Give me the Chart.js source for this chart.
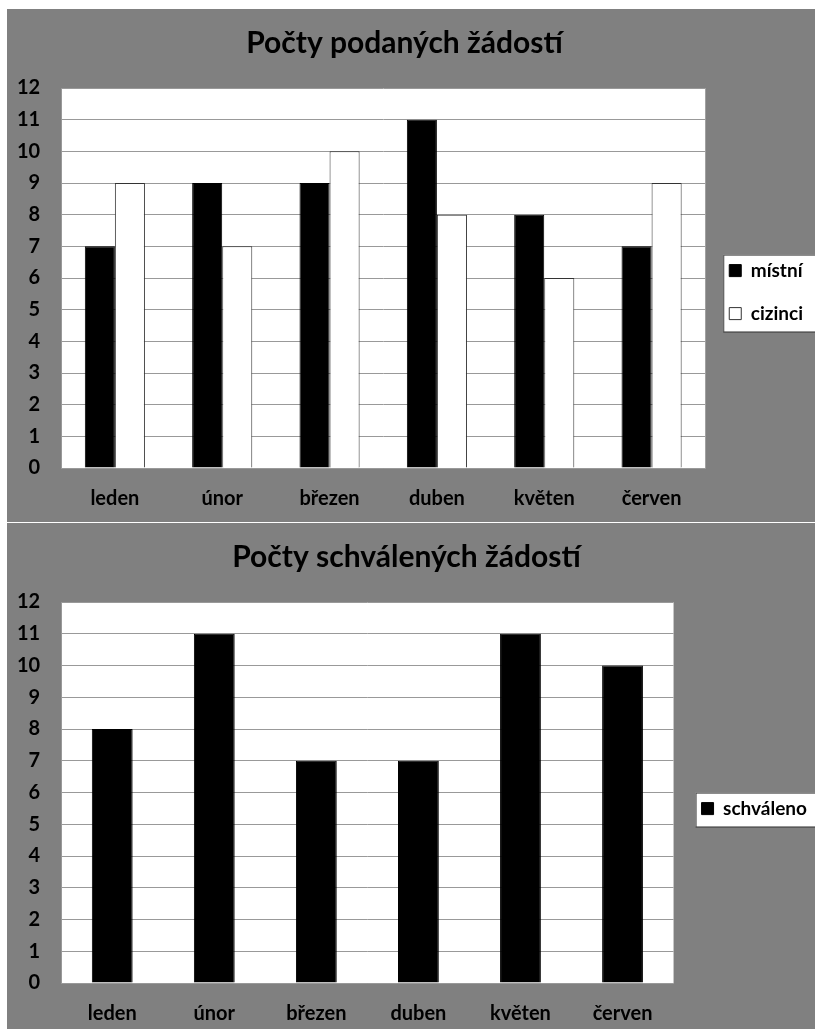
<!DOCTYPE html>
<html>
<head>
<meta charset="utf-8">
<script src="https://cdn.jsdelivr.net/npm/chart.js@4.4.0/dist/chart.umd.min.js"></script>
<style>
  body { margin: 0; background: #fff; overflow: hidden; width: 815px; height: 1029px; position: relative; }
  .box { position: absolute; left: 7px; width: 820px; background: #808080; }
  #top { top: 9px; height: 513px; }
  #bottom { top: 523px; height: 506px; }
</style>
</head>
<body>
<div class="box" id="top"><canvas id="podaneChart"></canvas></div>
<div class="box" id="bottom"><canvas id="schvaleneChart"></canvas></div>
<script>
// data
var mesice = ["leden", "únor", "březen", "duben", "květen", "červen"];
var mistni = [7, 9, 9, 11, 8, 7];
var cizinci = [9, 7, 10, 8, 6, 9];
var schvaleno = [8, 11, 7, 7, 11, 10];
var osaY = { min: 0, max: 12, krok: 1 };

Chart.defaults.font.family = 'Lato';
Chart.defaults.font.weight = 'bold';
Chart.defaults.font.size = 20;
Chart.defaults.color = '#000';

// white plot area + white legend box
var pozadi = {
    id: 'pozadi',
    beforeDraw: function(chart) {
        var c = chart.ctx, a = chart.chartArea, lg = chart.legend;
        var hb = lg.legendHitBoxes;
        c.save();
        c.fillStyle = '#fff';
        c.fillRect(a.left, a.top, a.right - a.left, a.bottom - a.top);
        if (hb && hb.length) {
            var x = hb[0].left - 6;
            var y1 = hb[0].top + hb[0].height / 2 - 16;
            var last = hb[hb.length - 1];
            var y2 = last.top + last.height / 2 + 18;
            c.fillRect(x, y1, chart.width - x, y2 - y1);
            c.strokeStyle = '#404040';
            c.lineWidth = 1;
            c.strokeRect(x + 0.5, y1 + 0.5, chart.width, y2 - y1);
        }
        c.restore();
    }
};

function osy(vyskaX) {
    return {
        x: {
            grid: { display: false, drawTicks: false },
            border: { color: '#999' },
            ticks: { padding: 19 },
            afterFit: function(s) { s.height = vyskaX; }
        },
        y: {
            min: osaY.min, max: osaY.max,
            grid: { color: '#999', drawTicks: false },
            border: { color: '#999' },
            ticks: { stepSize: osaY.krok, padding: 21 }
        }
    };
}

var ctx = document.getElementById('podaneChart').getContext('2d');
var chart1 = new Chart(ctx, {
    type: 'bar',
    data: {
        labels: mesice,
        datasets: [{
            label: "místní",
            backgroundColor: '#000',
            borderColor: '#000',
            borderWidth: 1,
            data: mistni
        }, {
            label: "cizinci",
            backgroundColor: '#fff',
            borderColor: '#333',
            borderWidth: 1,
            data: cizinci
        }]
    },
    options: {
        responsive: true,
        maintainAspectRatio: false,
        animation: false,
        categoryPercentage: 0.56,
        barPercentage: 1,
        layout: { padding: { left: -11, right: 14, bottom: 0 } },
        plugins: {
            title: {
                display: true,
                text: "Počty podaných žádostí",
                font: { size: 30 },
                padding: { top: 16, bottom: 27 }
            },
            legend: {
                position: 'right',
                labels: { boxWidth: 12, boxHeight: 12, padding: 24, font: { size: 19 } },
                title: { display: true, text: ' ', font: { size: 1 }, padding: 26 }
            },
            tooltip: { enabled: false }
        },
        scales: osy(54)
    },
    plugins: [pozadi]
});

var ctx2 = document.getElementById('schvaleneChart').getContext('2d');
var chart2 = new Chart(ctx2, {
    type: 'bar',
    data: {
        labels: mesice,
        datasets: [{
            label: "schváleno",
            backgroundColor: '#000',
            borderColor: '#000',
            borderWidth: 1,
            data: schvaleno
        }]
    },
    options: {
        responsive: true,
        maintainAspectRatio: false,
        animation: false,
        categoryPercentage: 1,
        barPercentage: 0.4,
        layout: { padding: { left: -11, right: 10, bottom: 0 } },
        plugins: {
            title: {
                display: true,
                text: "Počty schválených žádostí",
                font: { size: 30 },
                padding: { top: 16, bottom: 27 }
            },
            legend: {
                position: 'right',
                labels: { boxWidth: 12, boxHeight: 12, padding: 28, font: { size: 19 } },
                title: { display: true, text: ' ', font: { size: 1 }, padding: 32 }
            },
            tooltip: { enabled: false }
        },
        scales: osy(46)
    },
    plugins: [pozadi]
});
</script>
</body>
</html>
